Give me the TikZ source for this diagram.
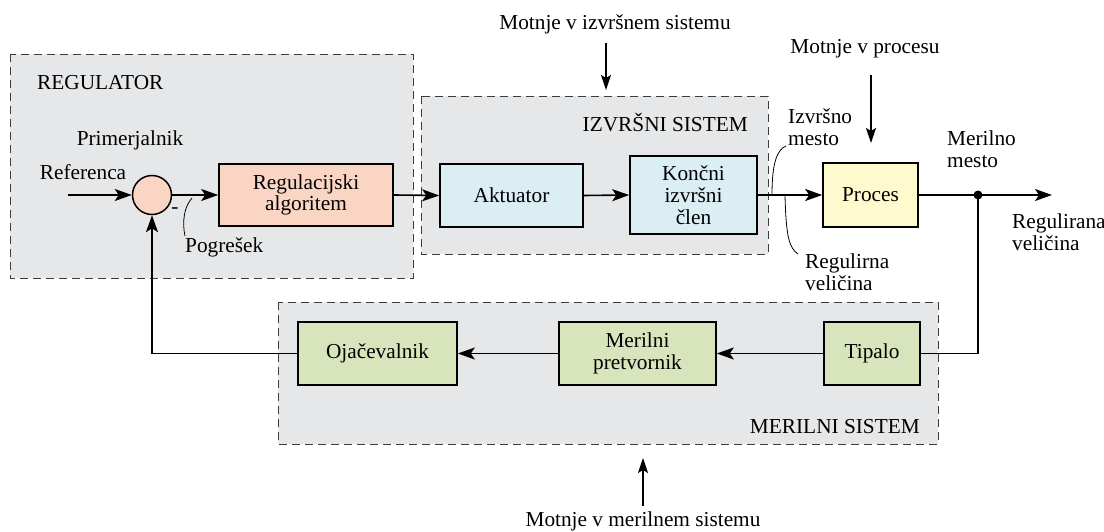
\documentclass[tikz,border=0pt]{standalone}
\usepackage{fontspec}
\setmainfont{Liberation Serif}
\newfontfamily\tnr{Liberation Serif}
\usetikzlibrary{arrows.meta}
\definecolor{grp}{RGB}{230,231,233}
\definecolor{peach}{RGB}{250,213,195}
\definecolor{cyanb}{RGB}{218,238,243}
\definecolor{yell}{RGB}{255,250,205}
\definecolor{grn}{RGB}{216,228,188}
\definecolor{dashc}{RGB}{60,60,60}
\tikzset{
  txt/.style={font=\tnr\fontsize{21.3}{21.8}\selectfont, inner sep=0pt, align=left},
  blk/.style={draw, line width=1.6pt, inner sep=0pt, align=center, font=\tnr\fontsize{21.3}{21.8}\selectfont},
  group/.style={fill=grp, draw=dashc, line width=0.9pt, dash pattern=on 8pt off 5pt},
  arr/.style={line width=1.6pt, -{Stealth[length=17pt,width=12pt,inset=4pt]}},
  conn/.style={line width=1.6pt},
  dist/.style={line width=1.3pt, -{Stealth[length=15pt,width=10pt,inset=3pt]}},
  lead/.style={line width=0.8pt}
}
\begin{document}
\begin{tikzpicture}[x=1pt,y=-1pt]
\useasboundingbox (0,0) rectangle (1104,532);
% groups
\draw[group] (10,54) rectangle (413,278);
\draw[group] (421,96) rectangle (768,254);
\draw[group] (278,302) rectangle (938,444);
% group titles
\node[txt, anchor=west] (tReg) at (37,83) {REGULATOR};
\node[txt, anchor=east] (tIzv) at (748,123) {IZVRŠNI SISTEM};
\node[txt, anchor=east] (tMer) at (920,427) {MERILNI SISTEM};
% blocks
\node[circle, draw, line width=1.5pt, fill=peach, minimum size=39pt, inner sep=0pt] (sum) at (152,195) {};
\node[blk, fill=peach, minimum width=174pt, minimum height=62pt] (reg) at (306,195) {Regulacijski\\algoritem};
\node[blk, fill=cyanb, minimum width=143pt, minimum height=63pt] (akt) at (511.5,195.5) {Aktuator};
\node[blk, fill=cyanb, minimum width=127pt, minimum height=78pt] (konc) at (693.5,195) {Končni\\izvršni\\člen};
\node[blk, fill=yell, minimum width=95pt, minimum height=64pt] (proc) at (870.5,195) {Proces};
\node[blk, fill=grn, minimum width=96pt, minimum height=63pt] (tip) at (872,353.5) {Tipalo};
\node[blk, fill=grn, minimum width=157pt, minimum height=63pt] (mer) at (637.5,353.5) {Merilni\\pretvornik};
\node[blk, fill=grn, minimum width=159pt, minimum height=63pt] (oja) at (377.5,353.5) {Ojačevalnik};
% coordinates
\coordinate (refin) at (68,195);
\coordinate (out) at (1052,195);
\fill (978,195) circle (4.5pt);
\coordinate (dot) at (978,195);
% connectors
\draw[arr] (refin) -- (sum.west);
\draw[arr] (sum.east) -- (reg.west);
\draw[arr] (reg.east) -- (akt.west);
\draw[arr] (akt.east) -- (konc.west);
\draw[arr] (konc.east) -- (proc.west);
\draw[conn] (proc.east) -- (dot);
\draw[arr] (dot) -- (out);
\draw[conn] (dot) |- (tip.east);
\draw[arr] (tip.west) -- (mer.east);
\draw[arr] (mer.west) -- (oja.east);
\draw[arr] (oja.west) -| (sum.south);
% labels
\node[txt] (lPrim) at (130,140) {Primerjalnik};
\node[txt] (lRef) at (83,172) {Referenca};
\node[txt] (lMinus) at (175,211) {-};
\node[txt, anchor=west] (lPog) at (185,247) {Pogrešek};
\node[txt, anchor=west] (lIzm) at (788,127) {Izvršno\\mesto};
\node[txt, anchor=west] (lRv) at (805,272) {Regulirna\\veličina};
\node[txt, anchor=west] (lMm) at (947,149) {Merilno\\mesto};
\node[txt, anchor=west] (lRgv) at (1012,232) {Regulirana\\veličina};
% leader lines
\draw[lead] (192,198) .. controls (184,207) and (182,222) .. (185,236);
\draw[lead] (772,195) .. controls (772,166) and (776,150) .. (786,146);
\draw[lead] (785,195) .. controls (786,236) and (789,248) .. (798,254);
% disturbances
\node[txt] (dIzv) at (615,24) {Motnje v izvršnem sistemu};
\coordinate (dIzvS) at (606,43);
\coordinate (dIzvE) at (606,90);
\draw[dist] (dIzvS) -- (dIzvE);
\node[txt] (dPro) at (865,49) {Motnje v procesu};
\coordinate (dProS) at (871,75);
\coordinate (dProE) at (871,143);
\draw[dist] (dProS) -- (dProE);
\node[txt] (dMer) at (643,521) {Motnje v merilnem sistemu};
\coordinate (dMerS) at (643,506);
\coordinate (dMerE) at (643,458);
\draw[dist] (dMerS) -- (dMerE);
\end{tikzpicture}
\end{document}
